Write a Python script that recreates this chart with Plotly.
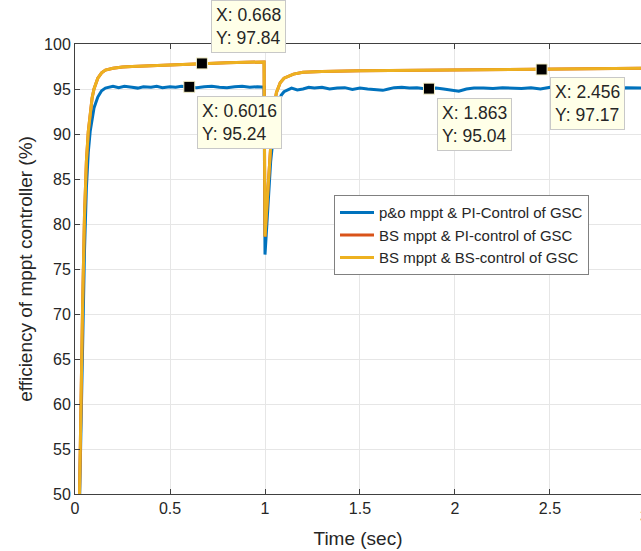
import plotly.graph_objects as go

# ---------------- data ----------------
t_po = [0.020, 0.030, 0.040, 0.050, 0.060, 0.070, 0.080, 0.090, 0.100, 0.120,
        0.140, 0.160, 0.180, 0.200, 0.230, 0.260, 0.300, 0.330, 0.360, 0.400,
        0.430, 0.460, 0.500, 0.530, 0.560, 0.6016, 0.640, 0.680, 0.720, 0.760,
        0.800, 0.840, 0.880, 0.920, 0.960, 0.995, 1.000, 1.010, 1.030, 1.050,
        1.070, 1.085, 1.100, 1.120, 1.140, 1.170, 1.200, 1.230, 1.260, 1.300,
        1.340, 1.380, 1.420, 1.460, 1.500, 1.540, 1.580, 1.620, 1.650, 1.680,
        1.720, 1.760, 1.800, 1.830, 1.863, 1.900, 1.940, 1.980, 2.020, 2.060,
        2.100, 2.150, 2.200, 2.250, 2.300, 2.350, 2.400, 2.450, 2.500, 2.550,
        2.600, 2.650, 2.700, 2.750, 2.800, 2.850, 2.900, 2.950, 3.000]
eff_po = [45.0, 57.0, 67.5, 77.0, 84.0, 88.0, 90.3, 91.8, 92.9, 94.1,
          94.8, 95.1, 95.2, 95.3, 95.15, 95.3, 95.2, 95.1, 95.25, 95.2,
          95.3, 95.15, 95.25, 95.2, 95.3, 95.24, 95.15, 95.25, 95.3, 95.2,
          95.15, 95.25, 95.3, 95.2, 95.25, 95.2, 76.6, 80.0, 87.0, 91.0,
          93.3, 94.3, 94.7, 94.9, 95.1, 94.9, 95.0, 95.2, 95.1, 95.2,
          95.0, 95.1, 95.15, 94.95, 95.1, 95.0, 94.9, 94.85, 95.0, 95.15,
          95.2, 95.1, 95.15, 95.05, 95.04, 95.1, 95.0, 94.9, 94.75, 95.0,
          95.1, 95.1, 95.05, 95.15, 95.1, 95.05, 95.15, 95.0, 95.2, 95.1,
          95.05, 95.15, 95.1, 95.2, 95.1, 95.05, 95.15, 95.1, 95.1]

t_bs = [0.020, 0.030, 0.040, 0.050, 0.060, 0.070, 0.080, 0.090, 0.100, 0.120,
        0.140, 0.160, 0.200, 0.250, 0.300, 0.400, 0.500, 0.600, 0.668, 0.800,
        0.900, 0.995, 1.000, 1.010, 1.020, 1.040, 1.060, 1.080, 1.100, 1.150,
        1.200, 1.300, 1.500, 1.800, 2.000, 2.200, 2.456, 2.700, 3.000]
eff_bs_pi = [45.0, 59.0, 71.0, 81.0, 87.0, 90.3, 92.5, 94.0, 95.0, 96.2,
             96.8, 97.1, 97.3, 97.45, 97.5, 97.6, 97.7, 97.78, 97.84, 97.93,
             97.97, 98.0, 78.6, 82.0, 86.5, 92.0, 94.6, 95.7, 96.2, 96.65,
             96.85, 96.95, 97.02, 97.07, 97.1, 97.13, 97.17, 97.22, 97.3]
eff_bs_bs = [45.0, 59.0, 71.0, 81.0, 87.0, 90.3, 92.5, 94.0, 95.0, 96.2,
             96.8, 97.1, 97.3, 97.45, 97.5, 97.6, 97.7, 97.78, 97.84, 97.93,
             97.97, 98.0, 78.6, 82.0, 86.5, 92.0, 94.6, 95.7, 96.2, 96.65,
             96.85, 96.95, 97.02, 97.07, 97.1, 97.13, 97.17, 97.22, 97.3]

tip_x = [0.668, 0.6016, 1.863, 2.456]
tip_y = [97.84, 95.24, 95.04, 97.17]

series_names = ["p&o mppt & PI-Control of GSC",
                "BS mppt & PI-control of GSC",
                "BS mppt & BS-control of GSC"]

x_ticks = [0, 0.5, 1, 1.5, 2, 2.5]
x_tick_labels = ["0", "0.5", "1", "1.5", "2", "2.5"]
y_ticks = [50, 55, 60, 65, 70, 75, 80, 85, 90, 95, 100]

# ---------------- figure ----------------
FONT = "Arial, Liberation Sans, Helvetica, sans-serif"
TXT = "#262626"
AX = "#404040"

fig = go.Figure()
fig.add_trace(go.Scatter(x=t_po, y=eff_po, mode="lines", name=series_names[0],
                         line=dict(color="#0072BD", width=3)))
fig.add_trace(go.Scatter(x=t_bs, y=eff_bs_pi, mode="lines", name=series_names[1],
                         line=dict(color="#D95319", width=3)))
fig.add_trace(go.Scatter(x=t_bs, y=eff_bs_bs, mode="lines", name=series_names[2],
                         line=dict(color="#EDB120", width=3)))
fig.add_trace(go.Scatter(x=tip_x, y=tip_y, mode="markers", showlegend=False,
                         marker=dict(symbol="square", size=11, color="black",
                                     line=dict(color="#f5f0c8", width=1))))

# data tips
tip_layout = [  # (xanchor, yanchor, xshift, yshift)
    ("left", "bottom", 9, 10),
    ("left", "top", 8, -9),
    ("left", "top", 8, -9),
    ("left", "top", 8, -8),
]
for xv, yv, (xa, ya, xs, ys) in zip(tip_x, tip_y, tip_layout):
    fig.add_annotation(x=xv, y=yv, xref="x", yref="y", showarrow=False,
                       text=f"X: {xv:g}<br>Y: {yv:g}", align="left",
                       xanchor=xa, yanchor=ya, xshift=xs, yshift=ys,
                       font=dict(family=FONT, size=17.5, color=TXT),
                       bgcolor="#FFFFE8", bordercolor="#c8c8c8", borderwidth=1,
                       borderpad=4)

x_range_max = 2.979
# partially visible "3" tick label at the cut right edge
fig.add_annotation(x=3 / x_range_max, y=0, xref="paper", yref="paper",
                   showarrow=False, text="3", xanchor="center", yanchor="top",
                   yshift=-12, font=dict(family=FONT, size=16, color=TXT))

fig.update_layout(
    width=641, height=551,
    margin=dict(l=75, r=0, t=44, b=57),
    paper_bgcolor="white", plot_bgcolor="white",
    font=dict(family=FONT, size=16, color=TXT),
    showlegend=True,
    legend=dict(x=0.4576, y=0.664, xanchor="left", yanchor="top",
                bgcolor="white", bordercolor="#808080", borderwidth=1,
                font=dict(family=FONT, size=15, color=TXT),
                tracegroupgap=0, itemwidth=34),
)
fig.update_xaxes(range=[0, x_range_max], tickvals=x_ticks, ticktext=x_tick_labels,
                 showgrid=True, gridcolor="#e6e6e6", gridwidth=1,
                 showline=True, linecolor=AX, linewidth=1, mirror="ticks",
                 ticks="inside", ticklen=5, tickcolor=AX, zeroline=False,
                 title=dict(text="Time (sec)", font=dict(size=19, color=TXT), standoff=15),
                 tickfont=dict(size=16, color=TXT))
fig.update_yaxes(range=[50, 100], tickvals=y_ticks,
                 showgrid=True, gridcolor="#e6e6e6", gridwidth=1,
                 showline=True, linecolor=AX, linewidth=1,
                 ticks="inside", ticklen=5, tickcolor=AX, zeroline=False,
                 title=dict(text="efficiency of mppt controller (%)",
                            font=dict(size=19, color=TXT), standoff=6),
                 tickfont=dict(size=16, color=TXT))

fig.write_html("out.html")
